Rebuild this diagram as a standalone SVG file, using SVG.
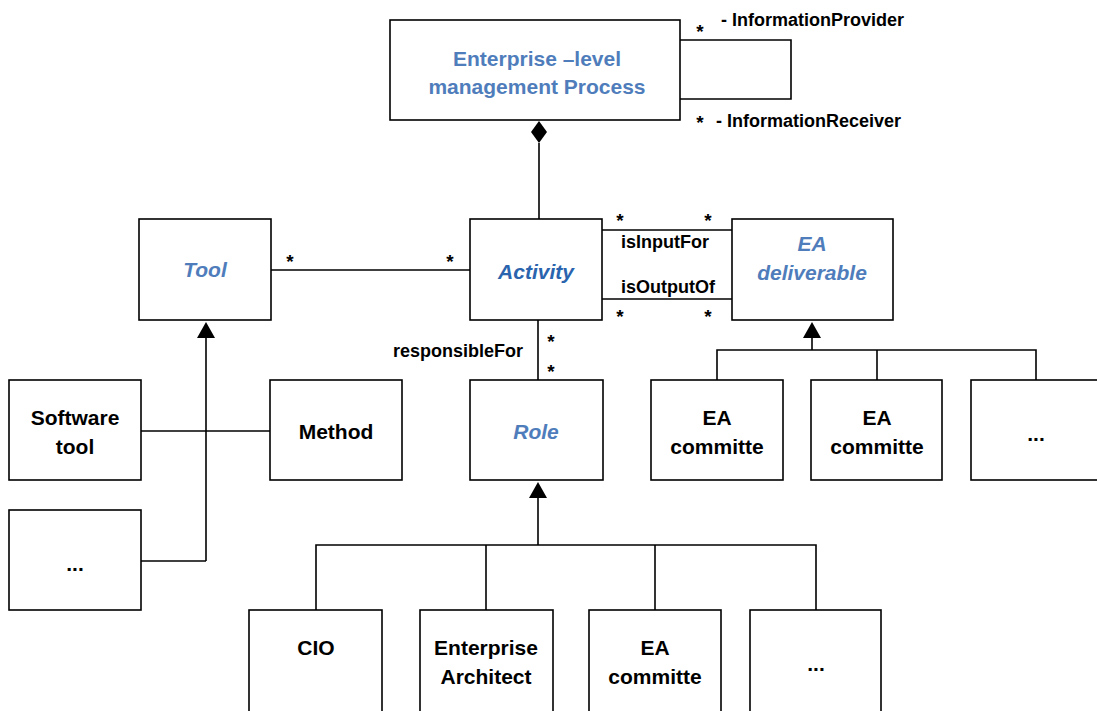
<svg xmlns="http://www.w3.org/2000/svg" width="1097" height="711" viewBox="0 0 1097 711">
  <style>
    .box { fill: #ffffff; stroke: #000000; stroke-width: 1.6; }
    .edge { fill: none; stroke: #000000; stroke-width: 1.6; }
    .head { fill: #000000; stroke: none; }
    .lbl { font-family: "Liberation Sans", Arial, sans-serif; font-weight: bold; font-size: 21px; fill: #000000; text-anchor: middle; }
    .cls { font-family: "Liberation Sans", Arial, sans-serif; font-weight: bold; font-style: italic; font-size: 21px; fill: #4F7DBB; text-anchor: middle; }
    .act { fill: #2A64AE; }
    .title { font-family: "Liberation Sans", Arial, sans-serif; font-weight: bold; font-size: 21px; fill: #4F7DBB; text-anchor: middle; }
    .rel { font-family: "Liberation Sans", Arial, sans-serif; font-weight: bold; font-size: 18px; fill: #000000; }
    .mul { font-family: "Liberation Sans", Arial, sans-serif; font-weight: bold; font-size: 19px; fill: #000000; text-anchor: middle; }
  </style>

  <!-- connectors -->
  <g id="connectors">
    <!-- self association on the process -->
    <polyline class="edge" points="680,40 791,40 791,99 680,99"/>
    <!-- composition: process owns activities -->
    <line class="edge" x1="539" y1="143" x2="539" y2="219"/>
    <polygon class="head" points="539,121 547,132 539,143 531,132"/>
    <!-- Tool - Activity -->
    <line class="edge" x1="271" y1="270" x2="470" y2="270"/>
    <!-- Activity - EA deliverable -->
    <line class="edge" x1="602" y1="230" x2="732" y2="230"/>
    <line class="edge" x1="602" y1="299" x2="732" y2="299"/>
    <!-- Activity - Role -->
    <line class="edge" x1="538" y1="320" x2="538" y2="380"/>
    <!-- Tool generalisation -->
    <polygon class="head" points="206,322 215,338 197,338"/>
    <line class="edge" x1="206" y1="338" x2="206" y2="561"/>
    <line class="edge" x1="141" y1="431" x2="270" y2="431"/>
    <line class="edge" x1="141" y1="561" x2="206" y2="561"/>
    <!-- EA deliverable generalisation -->
    <polygon class="head" points="812,322 821,338 803,338"/>
    <polyline class="edge" points="812,338 812,350"/>
    <polyline class="edge" points="717,380 717,350 1036,350 1036,380"/>
    <line class="edge" x1="877" y1="350" x2="877" y2="380"/>
    <!-- Role generalisation -->
    <polygon class="head" points="538,482 547,498 529,498"/>
    <line class="edge" x1="538" y1="498" x2="538" y2="545"/>
    <polyline class="edge" points="316,610 316,545 816,545 816,610"/>
    <line class="edge" x1="486" y1="545" x2="486" y2="610"/>
    <line class="edge" x1="655" y1="545" x2="655" y2="610"/>

    <!-- multiplicities and role names -->
    <text class="mul" x="700" y="38">*</text>
    <text class="rel" x="721" y="26">- InformationProvider</text>
    <text class="mul" x="700" y="129">*</text>
    <text class="rel" x="716" y="127">- InformationReceiver</text>
    <text class="mul" x="290" y="268">*</text>
    <text class="mul" x="450" y="268">*</text>
    <text class="mul" x="620" y="227">*</text>
    <text class="mul" x="708" y="227">*</text>
    <text class="mul" x="620" y="323">*</text>
    <text class="mul" x="708" y="323">*</text>
    <text class="rel" x="621" y="248">isInputFor</text>
    <text class="rel" x="621" y="293">isOutputOf</text>
    <text class="mul" x="551" y="348">*</text>
    <text class="mul" x="551" y="378">*</text>
    <text class="rel" x="393" y="357">responsibleFor</text>
  </g>

  <g id="process">
    <rect class="box" x="390" y="20" width="290" height="100"/>
    <text class="title" x="537" y="66">Enterprise –level</text>
    <text class="title" x="537" y="94">management Process</text>
  </g>

  <g id="tool">
    <rect class="box" x="139" y="219" width="132" height="101"/>
    <text class="cls" x="205" y="277">Tool</text>
  </g>

  <g id="activity">
    <rect class="box" x="470" y="219" width="132" height="101"/>
    <text class="cls act" x="536" y="279">Activity</text>
  </g>

  <g id="ea-deliverable">
    <rect class="box" x="732" y="219" width="161" height="101"/>
    <text class="cls" x="812" y="251">EA</text>
    <text class="cls" x="812" y="280">deliverable</text>
  </g>

  <g id="software-tool">
    <rect class="box" x="9" y="380" width="132" height="100"/>
    <text class="lbl" x="75" y="425">Software</text>
    <text class="lbl" x="75" y="454">tool</text>
  </g>

  <g id="method">
    <rect class="box" x="270" y="380" width="132" height="100"/>
    <text class="lbl" x="336" y="439">Method</text>
  </g>

  <g id="tool-other">
    <rect class="box" x="9" y="510" width="132" height="100"/>
    <text class="lbl" x="75" y="571">...</text>
  </g>

  <g id="role">
    <rect class="box" x="470" y="380" width="133" height="100"/>
    <text class="cls" x="536" y="439">Role</text>
  </g>

  <g id="deliverable-1">
    <rect class="box" x="651" y="380" width="132" height="100"/>
    <text class="lbl" x="717" y="425">EA</text>
    <text class="lbl" x="717" y="454">committe</text>
  </g>

  <g id="deliverable-2">
    <rect class="box" x="811" y="380" width="131" height="100"/>
    <text class="lbl" x="877" y="425">EA</text>
    <text class="lbl" x="877" y="454">committe</text>
  </g>

  <g id="deliverable-other">
    <rect class="box" x="971" y="380" width="132" height="100"/>
    <text class="lbl" x="1036" y="441">...</text>
  </g>

  <g id="cio">
    <rect class="box" x="249" y="610" width="133" height="110"/>
    <text class="lbl" x="316" y="655">CIO</text>
  </g>

  <g id="enterprise-architect">
    <rect class="box" x="420" y="610" width="133" height="110"/>
    <text class="lbl" x="486" y="655">Enterprise</text>
    <text class="lbl" x="486" y="684">Architect</text>
  </g>

  <g id="ea-committe">
    <rect class="box" x="589" y="610" width="132" height="110"/>
    <text class="lbl" x="655" y="655">EA</text>
    <text class="lbl" x="655" y="684">committe</text>
  </g>

  <g id="role-other">
    <rect class="box" x="750" y="610" width="131" height="110"/>
    <text class="lbl" x="816" y="671">...</text>
  </g>
</svg>
